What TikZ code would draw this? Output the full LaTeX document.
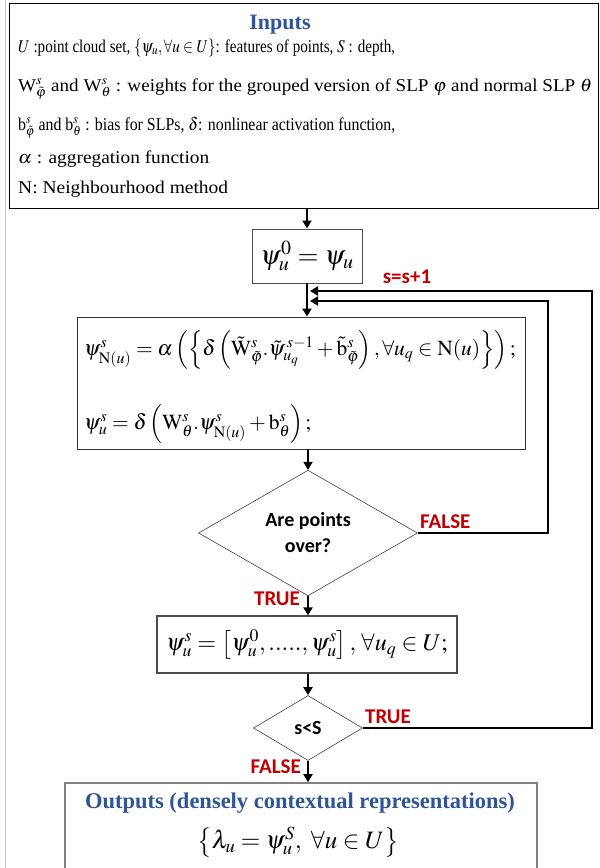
\documentclass[tikz,border=0pt]{standalone}
\usepackage{graphicx}
\usepackage{mathptmx}
\usepackage{fontspec}
\setmainfont{Liberation Serif}
\newfontfamily\calib{Carlito}
\usetikzlibrary{arrows.meta,shapes.geometric}
\definecolor{tblue}{HTML}{2F5597}
\definecolor{tred}{HTML}{C00000}
\newcommand\fitw[2]{\resizebox{#1}{\height}{#2}}
\tikzset{
  box/.style={draw=black!80, line width=0.9pt, inner sep=0pt},
  dia/.style={diamond, draw=black!75, line width=0.6pt, inner sep=0pt, align=center, font=\calib\bfseries\fontsize{20}{26}\selectfont},
  txt/.style={anchor=base west, inner sep=0pt, font=\rmfamily\fontsize{18}{20}\selectfont},
  lbl/.style={inner sep=0pt, text=tred, font=\calib\bfseries\fontsize{21}{24}\selectfont},
  ttl/.style={inner sep=0pt, text=tblue, font=\rmfamily\bfseries\fontsize{22}{24}\selectfont},
  eqn/.style={inner sep=0pt, font=\rmfamily\fontsize{21.5}{24}\selectfont},
  arr/.style={line width=1.8pt, -{Triangle[length=8pt,width=9pt]}},
  fb/.style={line width=2.2pt, -{Triangle[length=8pt,width=9pt]}},
}
\begin{document}
\begin{tikzpicture}[x=1pt,y=-1pt]
\useasboundingbox (0,0) rectangle (600,868);
\fill[white] (0,0) rectangle (600,868);
\draw[black!22, line width=1pt] (5,0) -- (5,868);

% Inputs
\node[box, draw=black, minimum width=589pt, minimum height=205pt] (inp) at (303.5,105.5) {};
\node[ttl, anchor=base] (inpt) at (280,29) {Inputs};
\node[txt] (l1) at (18,52) {\fitw{377pt}{$U$ :point cloud set, $\{\psi_u,\forall u\in U\}$: features of points, $S$ : depth,}};
\node[txt] (l2) at (18,91) {\fitw{574pt}{W$^s_{\tilde\varphi}$ and W$^s_\theta$ : weights for the grouped version of SLP $\varphi$ and normal SLP $\theta$}};
\node[txt] (l3) at (18,130) {\fitw{377pt}{b$^s_{\tilde\varphi}$ and b$^s_\theta$ : bias for SLPs, $\delta$: nonlinear activation function,}};
\node[txt] (l4) at (18,163) {\fitw{191pt}{$\alpha$ : aggregation function}};
\node[txt] (l5) at (18,193) {\fitw{210pt}{N: Neighbourhood method}};

% init
\node[box, draw=black!70, minimum width=110pt, minimum height=54pt, font=\rmfamily\fontsize{27}{30}\selectfont] (b2) at (307,256) {$\psi_u^0=\psi_u$};

% update box
\node[box, minimum width=448pt, minimum height=132pt] (b3) at (301,383) {};
\node[eqn, anchor=west] (f1) at (84,350)
  {$\psi^s_{\mathrm{N}(u)}=\alpha\left(\left\{\delta\left(\tilde{\mathrm{W}}^s_{\tilde\varphi}.\tilde\psi^{\,s-1}_{u_q}+\tilde{\mathrm{b}}^s_{\tilde\varphi}\right),\forall u_q\in\mathrm{N}(u)\right\}\right);$};
\node[eqn, anchor=west] (f2) at (84,424)
  {$\psi^s_u=\delta\left(\mathrm{W}^s_\theta.\psi^s_{\mathrm{N}(u)}+\mathrm{b}^s_\theta\right);$};

% diamond 1
\node[dia, minimum width=219pt, minimum height=119pt] (d1) at (308,533) {Are points\\over?};

% box 4
\node[box, draw=black!70, line width=1.2pt, minimum width=300pt, minimum height=57pt, font=\rmfamily\fontsize{24}{26}\selectfont] (b4) at (307,644.5)
  {$\psi^s_u=\left[\psi^0_u,.....,\psi^s_u\right],\,\forall u_q\in U;$};

% diamond 2
\node[dia, minimum width=109pt, minimum height=65pt] (d2) at (308,728) {s<S};

% outputs
\node[draw=black!50, line width=1.6pt, inner sep=0pt, minimum width=472pt, minimum height=92pt] (out) at (301,829) {};
\node[ttl, anchor=base, font=\rmfamily\bfseries\fontsize{22.5}{24}\selectfont] (outt) at (300,808) {Outputs (densely contextual representations)};
\node[inner sep=0pt, font=\rmfamily\fontsize{25}{28}\selectfont] (outf) at (298,842) {$\left\{\lambda_u=\psi^S_u,\ \forall u\in U\right\}$};

% labels
\node[lbl] (ss) at (407,277) {s=s+1};
\node[lbl, anchor=west] (fl1) at (420,522) {FALSE};
\node[lbl, anchor=east] (tr1) at (300,599) {TRUE};
\node[lbl, anchor=west] (tr2) at (365,717) {TRUE};
\node[lbl, anchor=east] (fl2) at (301,767) {FALSE};

% main arrows
\draw[arr] (inp.south -| b2.north) -- (b2.north);
\draw[arr, line width=2.4pt] (b2.south) -- (b2.south |- b3.north);
\draw[arr] (b3.south -| d1.north) -- (d1.north);
\draw[arr] (d1.south) -- (d1.south |- b4.north);
\draw[arr] (b4.south -| d2.north) -- (d2.north);
\draw[arr] (d2.south) -- (d2.south |- out.north);

% feedback
\coordinate (j1) at (310,301);
\coordinate (j2) at (310,291);
\draw[fb] (d1.east) -- (548,533) -- (548,301) -- (j1);
\draw[fb] (d2.east) -- (592,728) -- (592,291) -- (j2);
\end{tikzpicture}
\end{document}
